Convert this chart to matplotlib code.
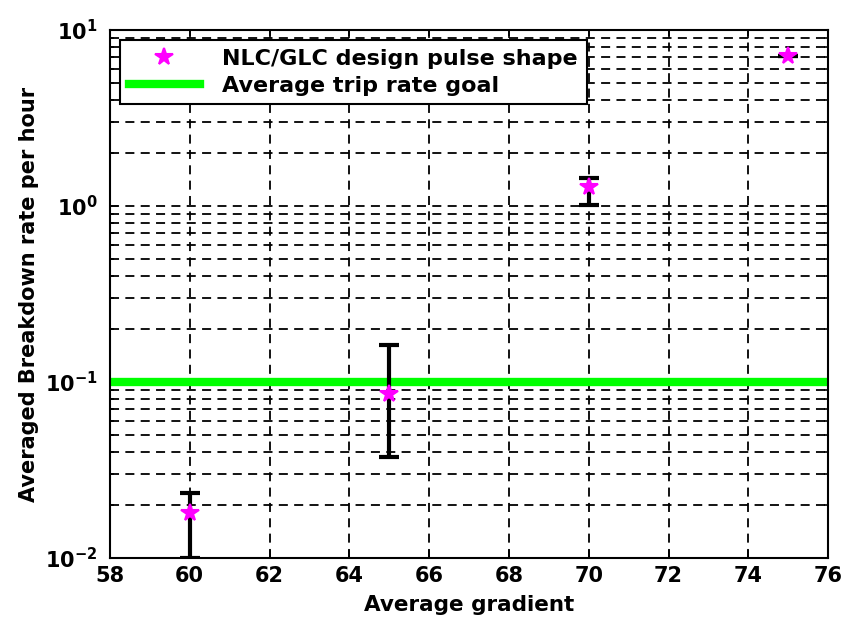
#!/usr/bin/env python3
"""
Averaged breakdown rate vs gradient, log scale with trip-rate goal.
"""

import matplotlib
matplotlib.use('Agg')
import matplotlib.pyplot as plt
from matplotlib.ticker import LogLocator, FixedLocator, NullFormatter
import numpy as np

plt.rcParams['font.family'] = ['DejaVu Sans']
plt.rcParams['font.weight'] = 'bold'
plt.rcParams['mathtext.fontset'] = 'dejavusans'
plt.rcParams['mathtext.default'] = 'bf'

# data
gradient = [60, 65, 70, 75]
rate = [0.018, 0.086, 1.28, 7.1]
err_low = [0.0100, 0.0375, 1.01, 7.1]
err_high = [0.0234, 0.162, 1.44, 7.1]
goal = 0.1

x_ticks = [58, 60, 62, 64, 66, 68, 70, 72, 74, 76]
y_ticks = [1e-2, 1e-1, 1e0, 1e1]
y_tick_labels = [r'$10^{-2}$', r'$10^{-1}$', r'$10^{0}$', r'$10^{1}$']

fig = plt.figure(figsize=(8.52, 6.2), dpi=100)
ax = fig.add_axes([0.129, 0.1, 0.843, 0.8516])

rate = np.array(rate)
yerr = [rate - np.array(err_low), np.array(err_high) - rate]

ax.errorbar(gradient, rate, yerr=yerr, fmt='none', ecolor='black',
            elinewidth=3, capsize=7, capthick=3, zorder=3)
ax.plot(gradient, rate, linestyle='none', marker='*', markersize=13,
        markeredgewidth=1.5, color='magenta', markeredgecolor='magenta',
        zorder=4, label='NLC/GLC design pulse shape')
ax.axhline(goal, color='#00ff00', linewidth=6, zorder=2,
           label='Average trip rate goal')

ax.set_yscale('log')
ax.set_xlim(58, 76)
ax.set_ylim(1e-2, 1e1)
ax.xaxis.set_major_locator(FixedLocator(x_ticks))
ax.set_xticklabels([str(t) for t in x_ticks])
ax.yaxis.set_major_locator(FixedLocator(y_ticks))
ax.set_yticklabels(y_tick_labels)
ax.yaxis.set_minor_locator(LogLocator(base=10, subs=np.arange(2, 10)))
ax.yaxis.set_minor_formatter(NullFormatter())

ax.tick_params(which='both', direction='in', top=True, right=True,
               labelsize=15, width=1.2)
ax.tick_params(axis='y', which='major', pad=9)
ax.tick_params(axis='x', which='major', pad=6)
ax.tick_params(which='major', length=6)
ax.tick_params(which='minor', length=3)

dash = (0, (5, 3.5))
ax.grid(True, which='major', axis='both', color='black', linestyle=dash,
        linewidth=1.3)
ax.grid(True, which='minor', axis='y', color='black', linestyle=dash,
        linewidth=1.3)
ax.set_axisbelow(True)

for s in ax.spines.values():
    s.set_linewidth(1.5)

ax.set_xlabel('Average gradient', fontsize=15.5, fontweight='bold', labelpad=6)
ax.set_ylabel('Averaged Breakdown rate per hour', fontsize=15,
              fontweight='bold', labelpad=4)

leg = ax.legend(loc='upper left', fontsize=16, frameon=True, fancybox=False,
                edgecolor='black', framealpha=1, borderpad=0.4,
                handlelength=3.2, handletextpad=1.0, borderaxespad=0.45,
                labelspacing=0.3)
leg.get_frame().set_linewidth(1.5)

plt.savefig('out.png', dpi=100)
plt.close()
